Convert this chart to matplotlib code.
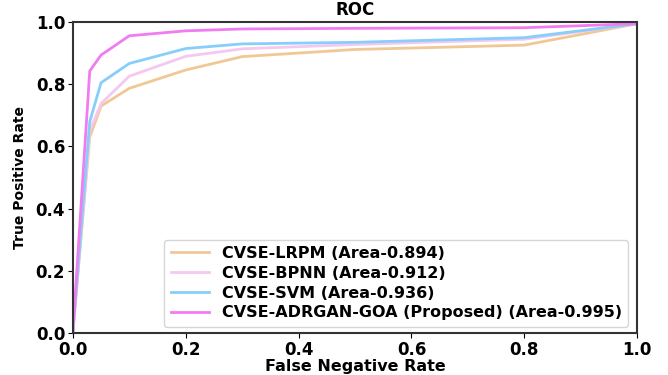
import matplotlib.pyplot as plt

# ROC points
fpr = [0.0, 0.03, 0.05, 0.1, 0.2, 0.3, 0.5, 0.8, 1.0]
lrpm = [0.0, 0.63, 0.73, 0.787, 0.846, 0.889, 0.912, 0.926, 0.995]
bpnn = [0.0, 0.65, 0.738, 0.826, 0.89, 0.914, 0.928, 0.945, 0.995]
svm = [0.0, 0.68, 0.805, 0.867, 0.915, 0.93, 0.935, 0.95, 0.995]
proposed = [0.0, 0.843, 0.894, 0.956, 0.972, 0.978, 0.98, 0.982, 0.995]

labels = ["CVSE-LRPM (Area-0.894)", "CVSE-BPNN (Area-0.912)",
          "CVSE-SVM (Area-0.936)", "CVSE-ADRGAN-GOA (Proposed) (Area-0.995)"]
colors = ["#f0c896", "#f5c8f0", "#87cefa", "#f07cf0"]

fig = plt.figure(figsize=(6.68, 3.75), dpi=100)
ax = fig.add_axes([0.109, 0.112, 0.845, 0.829])

for ys, lab, c in zip([lrpm, bpnn, svm, proposed], labels, colors):
    ax.plot(fpr, ys, color=c, lw=2, label=lab)

ax.set_xlim(0, 1)
ax.set_ylim(0, 1)
ax.set_title("ROC", fontsize=12, fontweight="bold", pad=5)
ax.set_xlabel("False Negative Rate", fontsize=11.5, fontweight="bold", labelpad=0)
ax.set_ylabel("True Positive Rate", fontsize=10, fontweight="bold", labelpad=6)
for lbl in ax.get_xticklabels() + ax.get_yticklabels():
    lbl.set_fontweight("bold")
ax.tick_params(labelsize=12, pad=2)
for s in ax.spines.values():
    s.set_linewidth(1.5)
    s.set_color("#333333")

ax.legend(loc="lower right", prop={"weight": "bold", "size": 11.5},
          handlelength=2.4, borderpad=0.4, labelspacing=0.3,
          borderaxespad=0, bbox_to_anchor=(0.984, 0.02))

fig.savefig("out.png", dpi=100)
